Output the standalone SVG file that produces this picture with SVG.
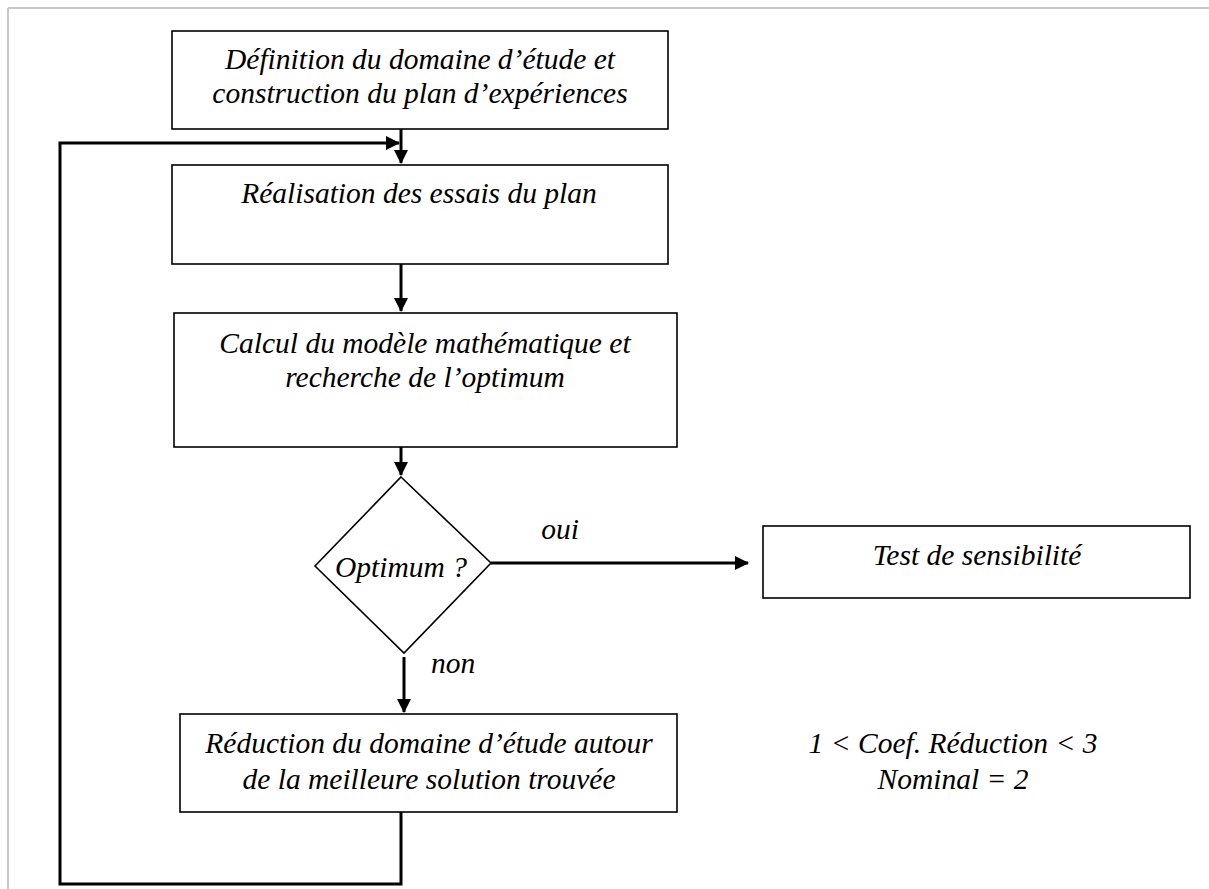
<svg xmlns="http://www.w3.org/2000/svg" width="1209" height="889" viewBox="0 0 1209 889">
<style>
.box{fill:#fff;stroke:#000;stroke-width:1.6}
.t{font-family:"Liberation Serif","Times New Roman",serif;font-style:italic;font-size:29.5px;fill:#000;text-anchor:middle}
.c{fill:none;stroke:#000;stroke-width:3}
</style>
<defs>
<marker id="ah2" markerWidth="14" markerHeight="14" refX="13" refY="7" orient="auto" markerUnits="userSpaceOnUse" viewBox="0 0 14 14">
<path d="M0,0 L14,7 L0,14 Z" fill="#000"/>
</marker>
</defs>
<rect width="1209" height="889" fill="#fff"/>
<g id="frame" stroke="#c8c8c8" stroke-width="2" fill="none">
<line x1="8" y1="8" x2="1209" y2="8"/>
<line x1="8" y1="8" x2="8" y2="889"/>
</g>
<g id="connectors">
<line class="c" x1="401" y1="129" x2="401" y2="163" marker-end="url(#ah2)"/>
<polyline class="c" points="401,812 401,884 60,884 60,143 399,143" marker-end="url(#ah2)"/>
<line class="c" x1="401" y1="264" x2="401" y2="311" marker-end="url(#ah2)"/>
<line class="c" x1="401" y1="447" x2="401" y2="475" marker-end="url(#ah2)"/>
<line class="c" x1="491" y1="563" x2="748" y2="563" marker-end="url(#ah2)"/>
<line class="c" x1="404" y1="657" x2="404" y2="712" marker-end="url(#ah2)"/>
</g>
<g id="n1">
<rect class="box" x="172" y="31" width="496" height="98"/>
<text class="t" x="420" y="69">Définition du domaine d’étude et</text>
<text class="t" x="420" y="103">construction du plan d’expériences</text>
</g>
<g id="n2">
<rect class="box" x="172" y="165" width="496" height="99"/>
<text class="t" x="419" y="203">Réalisation des essais du plan</text>
</g>
<g id="n3">
<rect class="box" x="174" y="313" width="503" height="134"/>
<text class="t" x="425" y="353">Calcul du modèle mathématique et</text>
<text class="t" x="425" y="387">recherche de l’optimum</text>
</g>
<g id="n4">
<polygon class="box" points="401,477 491,563 404,653 315,566"/>
<text class="t" x="401" y="577">Optimum ?</text>
</g>
<g id="n5">
<rect class="box" x="763" y="526" width="427" height="72"/>
<text class="t" x="977" y="565">Test de sensibilité</text>
</g>
<g id="n6">
<rect class="box" x="180" y="714" width="497" height="98"/>
<text class="t" x="429" y="753">Réduction du domaine d’étude autour</text>
<text class="t" x="429" y="789">de la meilleure solution trouvée</text>
</g>
<g id="labels">
<text class="t" x="560" y="539">oui</text>
<text class="t" x="453" y="673">non</text>
<text class="t" x="953" y="753">1 &lt; Coef. Réduction &lt; 3</text>
<text class="t" x="953" y="789">Nominal = 2</text>
</g>
</svg>
